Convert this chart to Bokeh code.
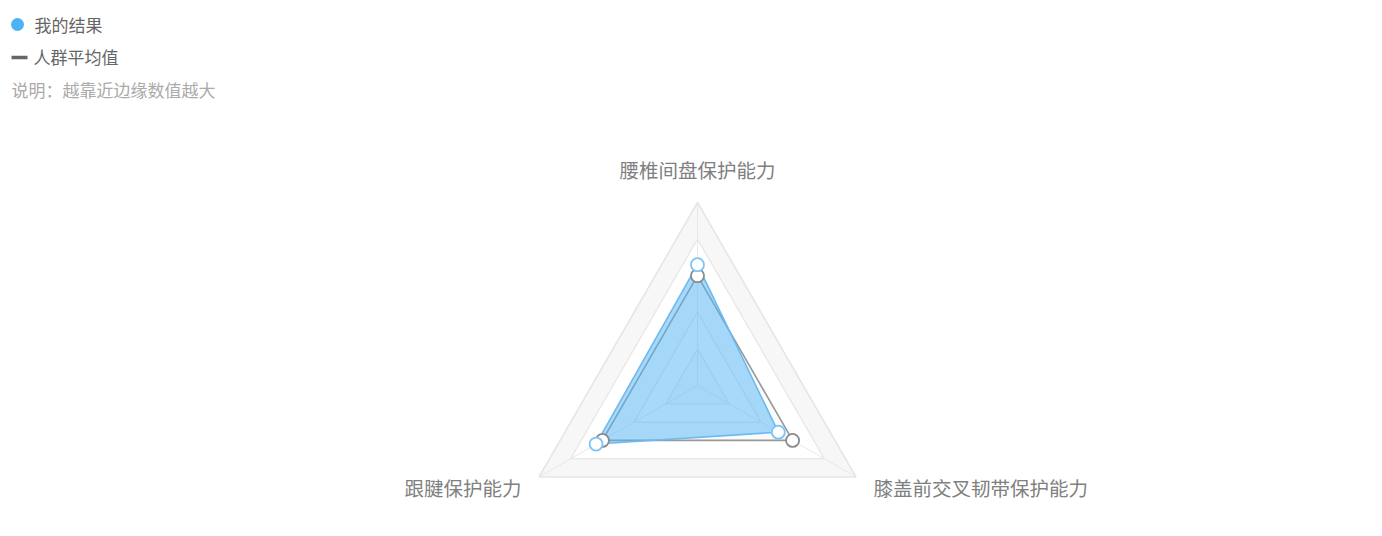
import numpy as np
from bokeh.plotting import figure
from bokeh.models import Range1d, Label
from bokeh.embed import file_html
from bokeh.resources import INLINE
from bokeh.core.properties import value

# ---- data ----
indicators = ["腰椎间盘保护能力", "跟腱保护能力", "膝盖前交叉韧带保护能力"]
max_values = [100, 100, 100]
my_result = [66, 64, 51]
crowd_avg = [60, 60, 60]
series_names = ["我的结果", "人群平均值"]
note_text = "说明：越靠近边缘数值越大"

# ---- layout ----
W, H = 1382, 536
CX, CY, R = 697, 385, 183
FONT = "Noto Sans CJK SC"

p = figure(width=W, height=H, output_backend="svg", toolbar_location=None,
           x_range=Range1d(-CX / R, (W - CX) / R),
           y_range=Range1d(-(H - CY) / R, CY / R),
           min_border=0)
p.axis.visible = False
p.grid.visible = False
p.outline_line_color = None
p.background_fill_color = "white"
p.border_fill_color = "white"

n = len(indicators)
angles = np.deg2rad(90 + 360.0 / n * np.arange(n))


def px(x, y):
    """screen pixel (from top-left) -> data coordinates"""
    return (x - CX) / R, (CY - y) / R


# split areas (outer to inner, painter's order)
levels = [1.0, 0.8, 0.6, 0.4, 0.2]
band_colors = ["#f7f7f7", "#ffffff", "#fbfbfb", "#ffffff", "#fbfbfb"]
for lv, col in zip(levels, band_colors):
    p.patch(list(lv * np.cos(angles)), list(lv * np.sin(angles)),
            fill_color=col, line_color=None)

# axis lines
for a in angles:
    p.line([0, np.cos(a)], [0, np.sin(a)], line_color="#e8e8e8", line_width=1)

# split lines
for lv in levels:
    xs = list(lv * np.cos(angles)) + [lv * np.cos(angles[0])]
    ys = list(lv * np.sin(angles)) + [lv * np.sin(angles[0])]
    p.line(xs, ys, line_color="#e6e6e6", line_width=1.6 if lv == 1.0 else 1.2)


def series_xy(vals):
    r = np.array(vals, dtype=float) / np.array(max_values, dtype=float)
    return list(r * np.cos(angles)), list(r * np.sin(angles))


ax, ay = series_xy(crowd_avg)
mx, my = series_xy(my_result)

# average line (beneath the blue area)
p.line(ax + [ax[0]], ay + [ay[0]], line_color="#999999", line_width=1.6)

# my result area and outline
p.patch(mx, my, fill_color="#4db3f5", fill_alpha=0.5, line_color=None)
p.line(mx + [mx[0]], my + [my[0]], line_color="#6cbaf0", line_width=1.6)

# markers on top
p.scatter(ax, ay, size=13, fill_color="white", line_color="#8a8a8a", line_width=1.8)
p.scatter(mx, my, size=13, fill_color="white", line_color="#7cc4f5", line_width=1.8)

# indicator names
for name, a in zip(indicators, angles):
    c, s = np.cos(a), np.sin(a)
    if abs(c) < 1e-6:
        align, base, gap = "center", "bottom", 1.10
    elif c < 0:
        align, base, gap = "right", "middle", 1.11
    else:
        align, base, gap = "left", "middle", 1.11
    p.add_layout(Label(x=gap * c, y=gap * s, text=name, text_align=align,
                       text_baseline=base, text_font=FONT, text_font_size="19.5px",
                       text_color="#808080"))

# legend
lx, ly = px(17, 24)
p.scatter([lx], [ly], size=13, fill_color="#4db3f5", line_color=None)
x1, y1 = px(11, 57)
x2, _ = px(27, 57)
p.line([x1, x2], [y1, y1], line_color="#666666", line_width=3.5)

for txt, (tx, ty), col in [(series_names[0], px(34, 24), "#666666"),
                           (series_names[1], px(33, 56), "#666666"),
                           (note_text, px(11, 89), "#aaaaaa")]:
    p.add_layout(Label(x=tx, y=ty, text=txt, text_align="left", text_baseline="middle",
                       text_font=FONT, text_font_size="17px", text_color=col))

open("out.html", "w").write(file_html(p, INLINE))
